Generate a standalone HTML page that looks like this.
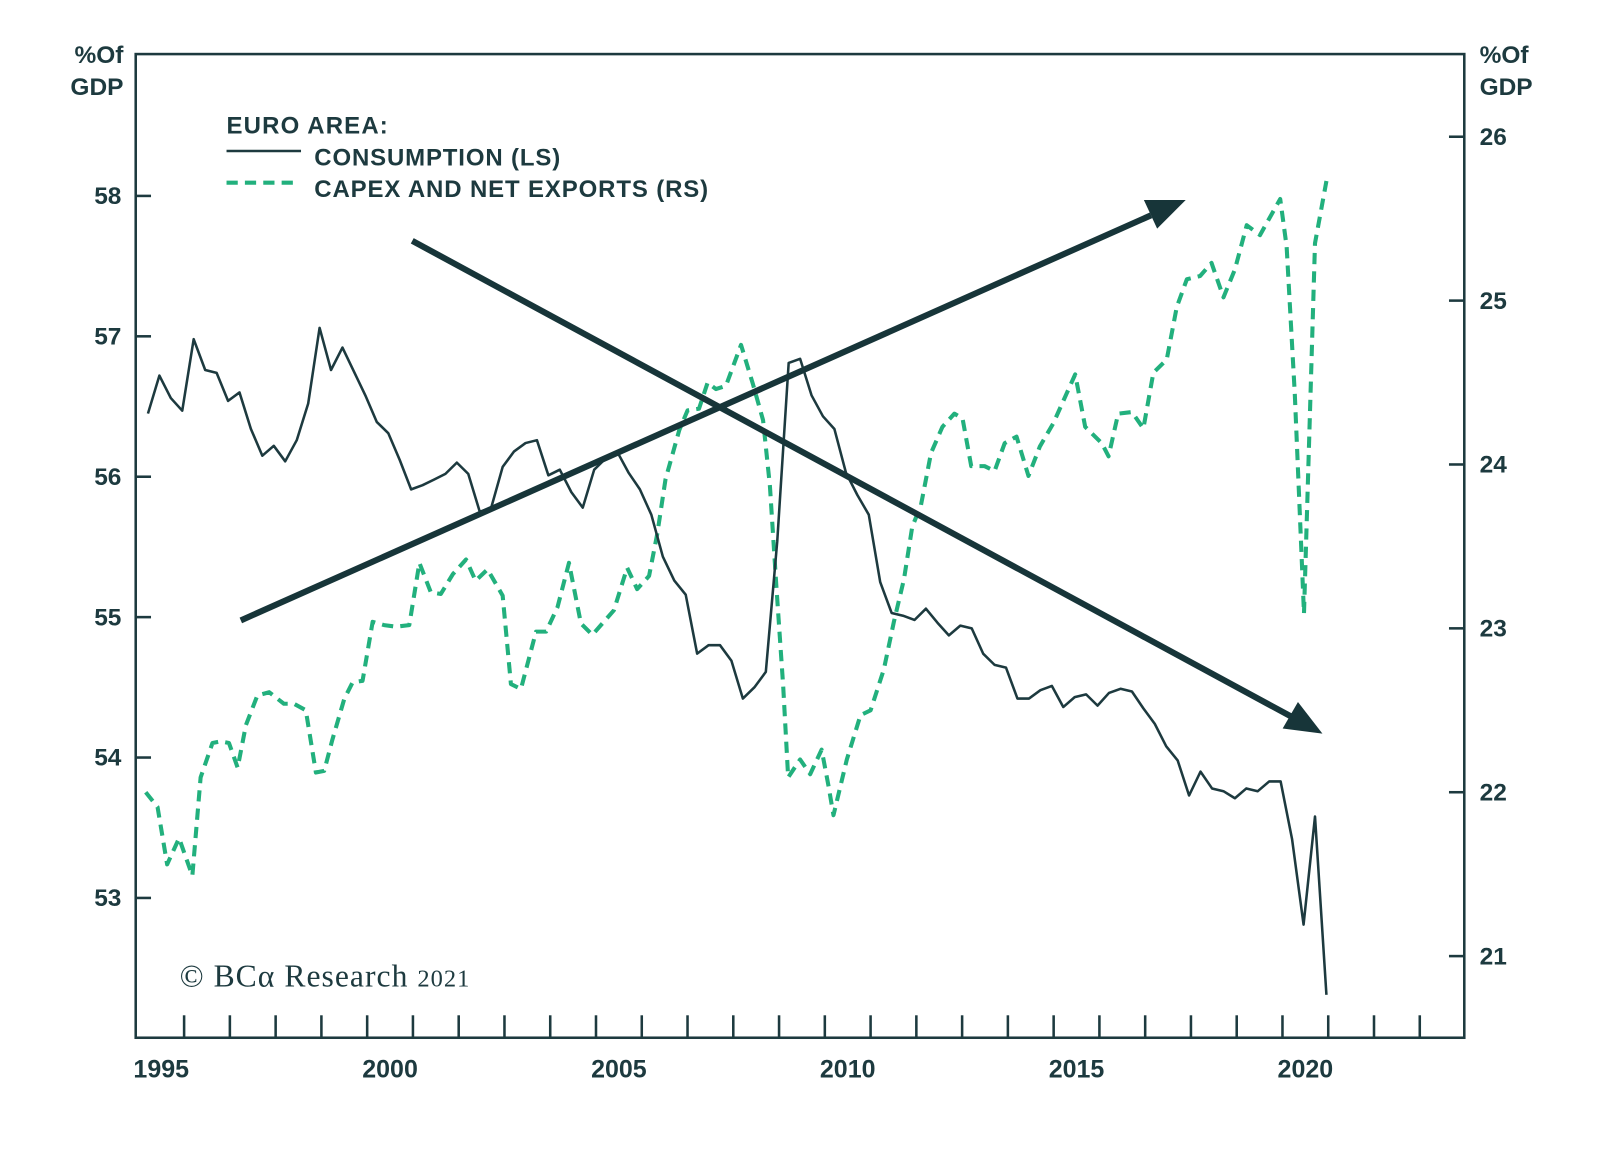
<!DOCTYPE html>
<html><head><meta charset="utf-8"><style>
html,body{margin:0;padding:0;background:#fff;}
svg{display:block;}
text{font-family:"Liberation Sans",sans-serif;fill:#1d3a3f;}
text.serif{font-family:"Liberation Serif",serif;}
</style></head><body>
<svg id="chart" width="1600" height="1151" viewBox="0 0 1568 1128" preserveAspectRatio="none" xmlns="http://www.w3.org/2000/svg">
<rect width="1568" height="1128" fill="#fff"/>
<rect x="133" y="53" width="1302" height="964" fill="none" stroke="#1d3a3f" stroke-width="2.5"/>
<g id="axes"></g>
<g id="series"></g>
<g>
 <line x1="236" y1="608" x2="1128" y2="211" stroke="#173539" stroke-width="6"/>
 <polygon points="1162,196 1121,196 1134,224" fill="#173539"/>
 <line x1="404" y1="236" x2="1265" y2="702" stroke="#173539" stroke-width="6"/>
 <polygon points="1296,719 1257,714 1272,688" fill="#173539"/>
</g>
<g>
 <text x="222" y="131" font-size="23.5" font-weight="bold" textLength="158">EURO AREA:</text>
 <line x1="222" y1="148" x2="295" y2="148" stroke="#1d3a3f" stroke-width="2.5"/>
 <text x="308" y="162" font-size="23.5" font-weight="bold" textLength="241">CONSUMPTION (LS)</text>
 <line x1="222" y1="179" x2="292" y2="179" stroke="#22b07d" stroke-width="4" stroke-dasharray="11,7"/>
 <text x="308" y="193" font-size="23.5" font-weight="bold" textLength="386">CAPEX AND NET EXPORTS (RS)</text>
</g>
<text x="121" y="62" font-size="24" font-weight="bold" text-anchor="end">%Of</text>
<text x="121" y="93" font-size="24" font-weight="bold" text-anchor="end">GDP</text>
<text x="1450" y="62" font-size="24" font-weight="bold">%Of</text>
<text x="1450" y="93" font-size="24" font-weight="bold">GDP</text>
<text class="serif" x="176" y="967" font-size="31" textLength="284">© BCα Research <tspan font-size="24">2021</tspan></text>
</svg>
<script>
const leftTicks = [53, 54, 55, 56, 57, 58];
const rightTicks = [21, 22, 23, 24, 25, 26];
const yearLabels = [1995, 2000, 2005, 2010, 2015, 2020];
const consStart = 1994.71;
const consStep = 0.25;
const consumption = [56.45,56.72,56.56,56.47,56.98,56.76,56.74,56.54,56.60,56.34,56.15,56.22,56.11,56.26,56.52,57.06,56.76,56.92,56.75,56.58,56.39,56.31,56.12,55.91,55.94,55.98,56.02,56.10,56.02,55.75,55.78,56.07,56.18,56.24,56.26,56.01,56.05,55.89,55.78,56.05,56.13,56.18,56.03,55.91,55.73,55.43,55.26,55.16,54.74,54.80,54.80,54.69,54.42,54.50,54.61,55.54,56.81,56.84,56.58,56.43,56.34,56.03,55.87,55.73,55.25,55.03,55.01,54.98,55.06,54.96,54.87,54.94,54.92,54.74,54.66,54.64,54.42,54.42,54.48,54.51,54.36,54.43,54.45,54.37,54.46,54.49,54.47,54.35,54.24,54.08,53.98,53.73,53.90,53.78,53.76,53.71,53.78,53.76,53.83,53.83,53.42,52.81,53.58,52.31];
const capexDates = [1994.66,1994.92,1995.13,1995.39,1995.68,1995.86,1996.12,1996.30,1996.48,1996.67,1996.85,1997.10,1997.36,1997.68,1997.90,1998.16,1998.38,1998.56,1998.74,1999.00,1999.18,1999.40,1999.62,1999.87,2000.13,2000.42,2000.64,2000.89,2001.11,2001.37,2001.66,2001.87,2002.13,2002.46,2002.64,2002.86,2003.19,2003.41,2003.66,2003.91,2004.17,2004.42,2004.89,2005.18,2005.40,2005.66,2005.84,2006.02,2006.32,2006.50,2006.75,2006.94,2007.12,2007.34,2007.67,2007.93,2008.15,2008.30,2008.44,2008.59,2008.70,2008.96,2009.18,2009.43,2009.58,2009.69,2009.98,2010.28,2010.50,2010.79,2011.01,2011.23,2011.41,2011.60,2011.82,2012.07,2012.33,2012.51,2012.70,2012.99,2013.21,2013.43,2013.69,2013.95,2014.20,2014.49,2014.78,2014.97,2015.19,2015.55,2015.70,2015.91,2016.21,2016.46,2016.68,2016.97,2017.19,2017.41,2017.70,2017.95,2018.21,2018.46,2018.72,2019.01,2019.45,2019.59,2019.77,2019.92,2019.97,2020.07,2020.21,2020.46];
const capex = [22.00,21.91,21.56,21.72,21.49,22.09,22.30,22.31,22.30,22.15,22.41,22.59,22.61,22.54,22.54,22.50,22.12,22.13,22.32,22.57,22.67,22.68,23.04,23.02,23.01,23.02,23.40,23.22,23.21,23.33,23.42,23.29,23.36,23.20,22.66,22.63,22.98,22.98,23.13,23.40,23.03,22.96,23.11,23.37,23.24,23.32,23.58,23.91,24.21,24.33,24.34,24.50,24.46,24.48,24.73,24.49,24.27,23.87,23.26,22.65,22.09,22.20,22.11,22.26,22.04,21.86,22.20,22.47,22.50,22.75,23.04,23.30,23.62,23.75,24.07,24.23,24.31,24.28,23.99,23.99,23.96,24.13,24.17,23.93,24.11,24.25,24.43,24.55,24.23,24.13,24.05,24.31,24.32,24.22,24.56,24.64,24.96,25.13,25.15,25.23,25.02,25.19,25.46,25.40,25.62,25.33,24.43,23.42,23.09,24.03,25.35,25.73];

const NS = 'http://www.w3.org/2000/svg';
function xScale(t){ return 158 + (t - 1995) * 44.85; }
function yLeft(v){ return 192 + (58 - v) * 137.6; }
function yRight(v){ return 134 + (26 - v) * 160.6; }
function mk(tag, attrs, parent){
  const e = document.createElementNS(NS, tag);
  for (const k in attrs) e.setAttribute(k, attrs[k]);
  parent.appendChild(e);
  return e;
}
const axes = document.getElementById('axes');
const series = document.getElementById('series');
const C = '#1d3a3f';
leftTicks.forEach(v => {
  const y = yLeft(v);
  const t = mk('line', {x1:133, x2:148, y1:y, y2:y, stroke:C, 'stroke-width':2.5}, axes);
  
  
  const l = mk('text', {x:119, y:y+8, 'font-size':24, 'font-weight':'bold', 'text-anchor':'end'}, axes);
  l.textContent = v;
  
  
});
rightTicks.forEach(v => {
  const y = yRight(v);
  const t = mk('line', {x1:1420, x2:1435, y1:y, y2:y, stroke:C, 'stroke-width':2.5}, axes);
  
  
  const l = mk('text', {x:1450, y:y+8, 'font-size':24, 'font-weight':'bold'}, axes);
  l.textContent = v;
  
  
});
for (let yr = 1995; yr <= 2022; yr++) {
  const x = xScale(yr + 0.5);
  const t = mk('line', {x1:x, x2:x, y1:995, y2:1017, stroke:C, 'stroke-width':2.5}, axes);
  
  
}
yearLabels.forEach(yr => {
  const l = mk('text', {x:xScale(yr), y:1056, 'font-size':24.5, 'font-weight':'bold', 'text-anchor':'middle'}, axes);
  l.textContent = yr;
  
  
});
const capexPts = capex.map((v, i) => xScale(capexDates[i]).toFixed(1) + ',' + yRight(v).toFixed(1)).join(' ');
const cp = mk('polyline', {points:capexPts, fill:'none', stroke:'#22b07d', 'stroke-width':4, 'stroke-dasharray':'11,7', 'stroke-linejoin':'round'}, series);


const consPts = consumption.map((v, i) => xScale(consStart + i * consStep).toFixed(1) + ',' + yLeft(v).toFixed(1)).join(' ');
const cl = mk('polyline', {points:consPts, fill:'none', stroke:'#1d3a3f', 'stroke-width':2.5, 'stroke-linejoin':'round'}, series);


</script>
</body></html>
